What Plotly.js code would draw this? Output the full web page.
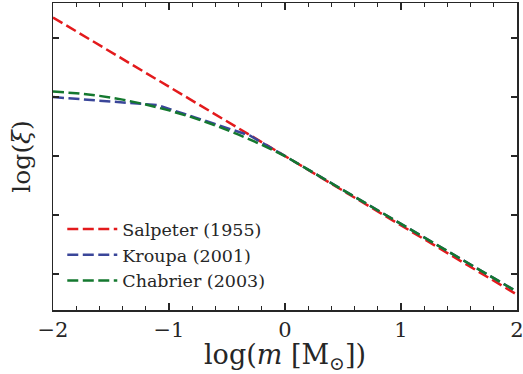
<!DOCTYPE html>
<html>
<head>
<meta charset="utf-8">
<script src="https://cdn.plot.ly/plotly-3.0.1.min.js"></script>
<style>html,body{margin:0;padding:0;background:#fff;}#chart{width:523px;height:374px;}</style>
</head>
<body>
<div id="chart"></div>
<script>
// log(m) values and log(xi) values
const salpeterX = [-2, 2];
const salpeterY = [4.70, -4.70];

const kroupaX = [-2, -1.097, -0.301, 2];
const kroupaY = [2.00, 1.727, 0.692, -4.60];

const chabrierX = [-2, -1.8, -1.6, -1.4, -1.2, -1.0, -0.8, -0.6, -0.4, -0.2, 0, 2];
const chabrierY = [2.186, 2.132, 2.041, 1.914, 1.750, 1.549, 1.312, 1.039, 0.729, 0.383, 0.0, -4.60];

const names = ['Salpeter (1955)', 'Kroupa (2001)', 'Chabrier (2003)'];
const colors = ['#e31a1c', '#3a4699', '#14782f'];

const dash = '11px,4.5px';
const traces = [
  {x: salpeterX, y: salpeterY, name: names[0], line: {color: colors[0], width: 2.5, dash: dash}},
  {x: kroupaX, y: kroupaY, name: names[1], line: {color: colors[1], width: 2.5, dash: dash}},
  {x: chabrierX, y: chabrierY, name: names[2], line: {color: colors[2], width: 2.5, dash: dash}}
].map(t => Object.assign({type: 'scatter', mode: 'lines'}, t));

const axisCommon = {
  showline: true, linecolor: '#262626', linewidth: 1.5, mirror: 'allticks',
  ticks: 'inside', tickcolor: '#262626', tickwidth: 1.5,
  showgrid: false, zeroline: false
};

const layout = {
  width: 523, height: 374,
  margin: {l: 53, r: 6, t: 3, b: 64},
  paper_bgcolor: '#fff', plot_bgcolor: '#fff',
  font: {family: 'DejaVu Serif', color: '#262626'},
  showlegend: true,
  legend: {x: 0.02, y: 0.322, xanchor: 'left', yanchor: 'top', bgcolor: 'rgba(0,0,0,0)',
           itemwidth: 50,
           font: {family: 'DejaVu Serif', size: 17.5, color: '#262626'}, tracegroupgap: 0},
  xaxis: Object.assign({}, axisCommon, {
    range: [-2, 2], tick0: 0, dtick: 1, ticklen: 7, ticklabeloverflow: 'allow',
    tickfont: {family: 'DejaVu Serif', size: 21, color: '#262626'},
    minor: {dtick: 0.2, ticks: 'inside', ticklen: 4, tickcolor: '#262626', tickwidth: 1.2},
    title: {text: 'log(<i>m</i> [M<sub>⊙</sub>])', font: {family: 'DejaVu Serif', size: 27, color: '#262626'}, standoff: 5}
  }),
  yaxis: Object.assign({}, axisCommon, {
    range: [-5.22, 5.19], tick0: 0, dtick: 2, ticklen: 6, showticklabels: false,
    title: {text: 'log(<i>ξ</i>)', font: {family: 'DejaVu Serif', size: 25, color: '#262626'}, standoff: 14}
  })
};

Plotly.newPlot('chart', traces, layout, {staticPlot: true, displayModeBar: false});
</script>
</body>
</html>
